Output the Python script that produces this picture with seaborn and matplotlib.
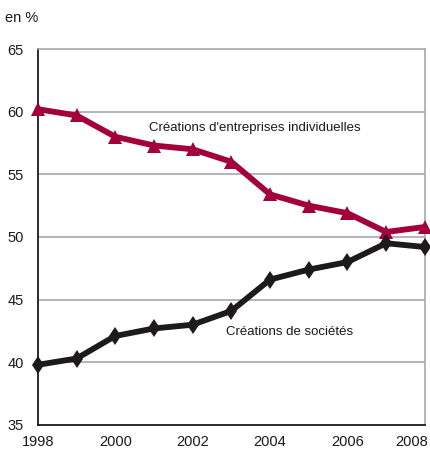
import matplotlib
matplotlib.use("Agg")
import matplotlib.pyplot as plt
import matplotlib.transforms as mtransforms
import seaborn as sns
import pandas as pd

years = list(range(1998, 2009))
entreprises_individuelles = [60.2, 59.7, 58.0, 57.3, 57.0, 56.0, 53.4, 52.5, 51.9, 50.4, 50.8]
societes = [39.8, 40.3, 42.1, 42.7, 43.0, 44.1, 46.6, 47.4, 48.0, 49.5, 49.2]
x_ticks = [1998, 2000, 2002, 2004, 2006, 2008]
y_ticks = [35, 40, 45, 50, 55, 60, 65]

label_ei = "Créations d'entreprises individuelles"
label_soc = "Créations de sociétés"

df = pd.DataFrame({
    "annee": years * 2,
    "valeur": entreprises_individuelles + societes,
    "serie": [label_ei] * len(years) + [label_soc] * len(years),
})

sns.set_style("white")
plt.rcParams["font.family"] = ["Liberation Sans", "DejaVu Sans"]

fig = plt.figure(figsize=(4.3, 4.54), dpi=100)
ax = fig.add_axes([0.088, 0.064, 0.9, 0.828])

red = "#A3003A"
black = "#1c1a1a"

sns.lineplot(
    data=df, x="annee", y="valeur", hue="serie", style="serie",
    palette={label_ei: red, label_soc: black},
    markers={label_ei: "^", label_soc: "d"},
    dashes=False, linewidth=4.2, markersize=9.5, markeredgewidth=0,
    legend=False, ax=ax, clip_on=False, zorder=3,
)

ax.set_xlim(1998, 2008)
ax.set_ylim(35, 65)
ax.set_xticks(years)
ax.set_xticklabels([str(y) if y in x_ticks else "" for y in years])
ax.set_yticks(y_ticks)
ax.set_xlabel("")
ax.set_ylabel("")

for v in y_ticks[1:-1]:
    ax.axhline(v, color="#a8a8ab", linewidth=1.2, zorder=1)

for side in ["top", "right"]:
    ax.spines[side].set_color("#a8a8ab")
    ax.spines[side].set_linewidth(1.2)
for side in ["left", "bottom"]:
    ax.spines[side].set_color("#1a1a1a")
    ax.spines[side].set_linewidth(1.3)

ax.tick_params(axis="x", direction="in", length=5, width=1.2, color="#1a1a1a",
               labelsize=10.5, pad=7, labelcolor="#1a1a1a")
ax.tick_params(axis="y", length=0, labelsize=10.5, pad=10, labelcolor="#1a1a1a")

# keep the last year label inside the figure
last = ax.get_xticklabels()[-1]
last.set_transform(last.get_transform() + mtransforms.ScaledTranslation(-13 / 100, 0, fig.dpi_scale_trans))

ax.text(2003.6, 58.7, label_ei, ha="center", va="center", fontsize=9.5, color="#1a1a1a")
ax.text(2004.5, 42.4, label_soc, ha="center", va="center", fontsize=9.5, color="#1a1a1a")

fig.text(0.012, 0.96, "en %", ha="left", va="center", fontsize=10.5, color="#1a1a1a")

fig.savefig("out.png", dpi=100)
